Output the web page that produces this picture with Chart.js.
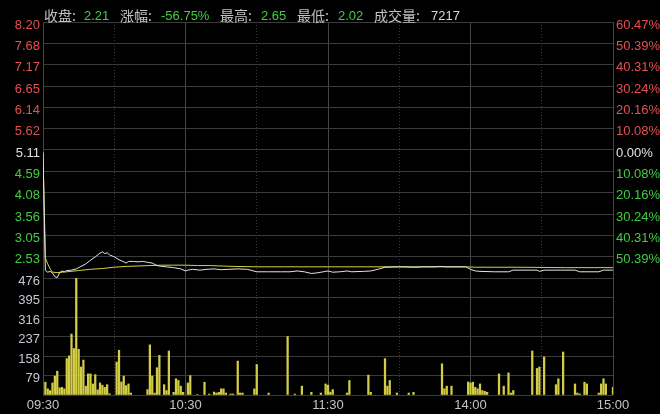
<!DOCTYPE html>
<html>
<head>
<meta charset="utf-8">
<script src="https://cdn.jsdelivr.net/npm/chart.js@4.4.1/dist/chart.umd.min.js"></script>
<style>
  html, body { margin: 0; padding: 0; background: #000; }
  #wrap { position: relative; width: 660px; height: 414px; background: #000; }
  #chart { position: absolute; left: 0; top: 0; }
  #head span { position: absolute; white-space: nowrap; line-height: 1; }
  #head .k { font: 14px "Noto Sans CJK SC", sans-serif; color: #c4c4c4; top: 5px; }
  #head .n { font: 13px "Liberation Sans", Arial, sans-serif; color: #3fcf3f; top: 8px; }
  #head .w { color: #d8d8d8; }
</style>
</head>
<body>
<div id="wrap">
  <canvas id="chart" width="660" height="414"></canvas>
  <div id="head">
    <span class="k" style="left:44px">收盘:</span><span class="n" style="left:84px">2.21</span>
    <span class="k" style="left:120px">涨幅:</span><span class="n" style="left:161px">-56.75%</span>
    <span class="k" style="left:220px">最高:</span><span class="n" style="left:261px">2.65</span>
    <span class="k" style="left:297px">最低:</span><span class="n" style="left:338px">2.02</span>
    <span class="k" style="left:374px">成交量:</span><span class="n w" style="left:431px">7217</span>
  </div>
</div>
<script>
// Intraday chart: minutes since 09:30 (lunch break removed, 240 = 15:00)
const timeTicks = [0, 60, 120, 180, 240];
const timeLabels = ['09:30', '10:30', '11:30', '14:00', '15:00'];
const halfHourTicks = [30, 90, 150, 210];

const prevClose = 5.11;
const priceMin = 2.02;
const priceMax = 8.20;
const priceTicks = [8.20, 7.68, 7.17, 6.65, 6.14, 5.62, 5.11, 4.59, 4.08, 3.56, 3.05, 2.53];
const pctLabels = ['60.47%', '50.39%', '40.31%', '30.24%', '20.16%', '10.08%', '0.00%',
  '10.08%', '20.16%', '30.24%', '40.31%', '50.39%'];
const volTicks = [79, 158, 237, 316, 395, 476];

const priceMinutes = [0, 1, 2, 3, 4, 5, 6, 7, 8, 9, 10, 12, 14, 16, 18, 20, 22, 24, 25, 26, 27, 28,
  30, 32, 34, 35, 36, 38, 40, 42, 44, 46, 48, 50, 52, 55, 58, 60, 61, 63, 66, 69, 72, 75, 78,
  82, 86, 88, 90, 95, 100, 104, 107, 110, 113, 115, 118, 120, 122, 125, 128, 130, 135, 138, 141,
  144, 150, 157, 160, 165, 167, 170, 178, 180, 182, 184, 190, 196, 198, 205, 208, 209, 211, 218,
  224, 226, 234, 236, 240];
const priceValues = [5.05, 2.20, 2.16, 2.18, 2.14, 2.05, 2.03, 2.15, 2.19, 2.17, 2.20, 2.21, 2.24,
  2.30, 2.36, 2.45, 2.53, 2.62, 2.65, 2.61, 2.63, 2.58,
  2.53, 2.46, 2.41, 2.38, 2.42, 2.42, 2.41, 2.42, 2.40, 2.38, 2.32, 2.30, 2.29, 2.27, 2.24, 2.19,
  2.21, 2.23, 2.21, 2.23, 2.24, 2.22, 2.23,
  2.24, 2.23, 2.20, 2.17, 2.17, 2.17, 2.17, 2.19, 2.17, 2.13, 2.14, 2.17, 2.19, 2.16, 2.17, 2.19,
  2.17, 2.18, 2.19, 2.23, 2.28, 2.29, 2.28, 2.29, 2.29, 2.30, 2.29, 2.29, 2.23, 2.19, 2.18, 2.17,
  2.17, 2.21, 2.21, 2.21, 2.18, 2.21, 2.21, 2.21, 2.17, 2.17, 2.21, 2.21];

const avgMinutes = [0, 1, 2, 3, 4, 6, 8, 10, 15, 20, 25, 30, 35, 40, 45, 50, 55, 60, 65, 70, 75, 80,
  90, 120, 178, 182, 200, 220, 240];
const avgValues = [5.05, 2.50, 2.36, 2.24, 2.16, 2.15, 2.16, 2.17, 2.20, 2.23, 2.25, 2.28, 2.30, 2.31,
  2.32, 2.33, 2.33, 2.33, 2.32, 2.32, 2.31, 2.30, 2.29, 2.29, 2.29, 2.28, 2.28, 2.27, 2.27];

const volMinutes = [1, 2, 3, 4, 5, 6, 7, 8, 9, 10, 11, 12, 13, 14, 15, 16, 17, 18, 19, 20, 21, 22, 23,
  24, 25, 26, 27, 28, 31, 32, 33, 34, 35, 36, 37, 44, 45, 46, 47, 48, 49, 51, 52, 53, 55, 56, 57, 58,
  59, 61, 62, 65, 68, 70, 72, 73, 74, 75, 76, 77, 79, 80, 82, 83, 84, 89, 90, 95, 103, 106, 109, 113,
  117, 119, 120, 121, 122, 128, 129, 137, 138, 144, 145, 146, 149, 154, 156, 168, 169, 170, 172, 179,
  180, 181, 182, 183, 184, 185, 186, 187, 192, 194, 196, 197, 198, 206, 208, 209, 211, 216, 217, 219,
  224, 225, 226, 228, 229, 234, 235, 236, 237, 240];
const volValues = [52, 25, 18, 49, 77, 97, 29, 31, 25, 148, 159, 248, 189, 476, 186, 114, 142, 36, 86,
  86, 45, 83, 21, 49, 40, 31, 42, 5, 134, 182, 53, 77, 38, 45, 8, 22, 204, 77, 8, 111, 161, 42, 18, 179,
  11, 66, 59, 36, 11, 49, 79, 2, 52, 4, 12, 8, 11, 25, 25, 8, 4, 4, 138, 8, 8, 25, 124, 8, 238, 4, 36,
  11, 8, 45, 40, 12, 22, 8, 59, 81, 11, 148, 36, 59, 8, 8, 11, 127, 25, 36, 36, 53, 49, 52, 31, 25, 45,
  18, 15, 11, 86, 36, 90, 8, 18, 179, 108, 114, 155, 42, 66, 175, 45, 8, 4, 52, 45, 8, 45, 66, 45, 31];

const FONT = '"Liberation Sans", Arial, sans-serif';
const GRID = '#3a3a3a';
const RED = '#e5504f';
const GREEN = '#3fcf3f';
const WHITE = '#e2e2e2';

function priceColor(v) {
  if (Math.abs(v - prevClose) < 0.001) return WHITE;
  return v > prevClose ? RED : GREEN;
}

function renderChart() {
  const ctx = document.getElementById('chart');

  new Chart(ctx, {
    data: {
      datasets: [
        {
          type: 'line',
          label: '价格',
          data: priceMinutes.map((m, i) => ({ x: m, y: priceValues[i] })),
          borderColor: '#e4e4e4',
          borderWidth: 1,
          pointRadius: 0,
          tension: 0,
          xAxisID: 'x',
          yAxisID: 'y'
        },
        {
          type: 'line',
          label: '均价',
          data: avgMinutes.map((m, i) => ({ x: m, y: avgValues[i] })),
          borderColor: '#d9d23c',
          borderWidth: 1,
          pointRadius: 0,
          tension: 0,
          xAxisID: 'x',
          yAxisID: 'y'
        },
        {
          type: 'bar',
          label: '成交量',
          data: volMinutes.map((m, i) => ({ x: m, y: volValues[i] })),
          backgroundColor: '#d2cd44',
          barThickness: 1.6,
          xAxisID: 'x',
          yAxisID: 'v'
        }
      ]
    },
    options: {
      responsive: false,
      animation: false,
      layout: { padding: { top: 22 } },
      plugins: {
        legend: { display: false },
        tooltip: { enabled: false }
      },
      scales: {
        x: {
          type: 'linear',
          position: 'bottom',
          offset: false,
          min: 0,
          max: 240,
          afterBuildTicks: s => { s.ticks = timeTicks.map(v => ({ value: v })); },
          afterFit: s => { s.height = 19; },
          grid: { color: '#444444', drawTicks: false, offset: false },
          border: { display: false },
          ticks: {
            color: '#c4c4c4',
            font: { family: FONT, size: 13 },
            padding: 3,
            autoSkip: false,
            maxRotation: 0,
            callback: (v, i) => timeLabels[i]
          }
        },
        x2: {
          type: 'linear',
          axis: 'x',
          position: 'top',
          offset: false,
          min: 0,
          max: 240,
          afterBuildTicks: s => { s.ticks = halfHourTicks.map(v => ({ value: v })); },
          afterFit: s => { s.height = 0; },
          grid: { color: '#3a3a3a', drawTicks: false, offset: false },
          border: { display: false, dash: [1, 2] },
          ticks: { display: false }
        },
        v: {
          type: 'linear',
          axis: 'y',
          position: 'left',
          stack: 'L',
          stackWeight: 117,
          min: 0,
          max: 476,
          afterBuildTicks: s => { s.ticks = [0].concat(volTicks).map(v => ({ value: v })); },
          afterFit: s => { s.width = 43; },
          grid: { color: GRID, drawTicks: false },
          border: { display: false },
          ticks: {
            color: '#c2c8d2',
            font: { family: FONT, size: 13 },
            padding: 3,
            labelOffset: 3,
            autoSkip: false,
            callback: v => (v === 0 ? '' : String(v))
          }
        },
        y: {
          type: 'linear',
          position: 'left',
          stack: 'L',
          stackWeight: 256,
          min: priceMin,
          max: priceMax,
          afterBuildTicks: s => { s.ticks = priceTicks.concat([priceMin]).map(v => ({ value: v })); },
          afterFit: s => { s.width = 43; },
          grid: { color: GRID, drawTicks: false },
          border: { display: false },
          ticks: {
            color: c => priceColor(c.tick.value),
            font: { family: FONT, size: 13 },
            padding: 3,
            labelOffset: 3,
            autoSkip: false,
            callback: v => (v === priceMin ? '' : v.toFixed(2))
          }
        },
        yR: {
          type: 'linear',
          axis: 'y',
          position: 'right',
          stack: 'R',
          stackWeight: 256,
          min: priceMin,
          max: priceMax,
          afterBuildTicks: s => { s.ticks = priceTicks.map(v => ({ value: v })); },
          afterFit: s => { s.width = 47; },
          grid: { drawOnChartArea: false, drawTicks: false },
          border: { display: false },
          ticks: {
            color: c => priceColor(c.tick.value),
            font: { family: FONT, size: 13 },
            padding: 3,
            labelOffset: 3,
            autoSkip: false,
            callback: v => pctLabels[priceTicks.indexOf(v)]
          }
        },
        vR: {
          type: 'linear',
          axis: 'y',
          position: 'right',
          stack: 'R',
          stackWeight: 117,
          min: 0,
          max: 476,
          afterFit: s => { s.width = 47; },
          grid: { display: false },
          border: { display: false },
          ticks: { display: false }
        }
      }
    }
  });
}

renderChart();
</script>
</body>
</html>
